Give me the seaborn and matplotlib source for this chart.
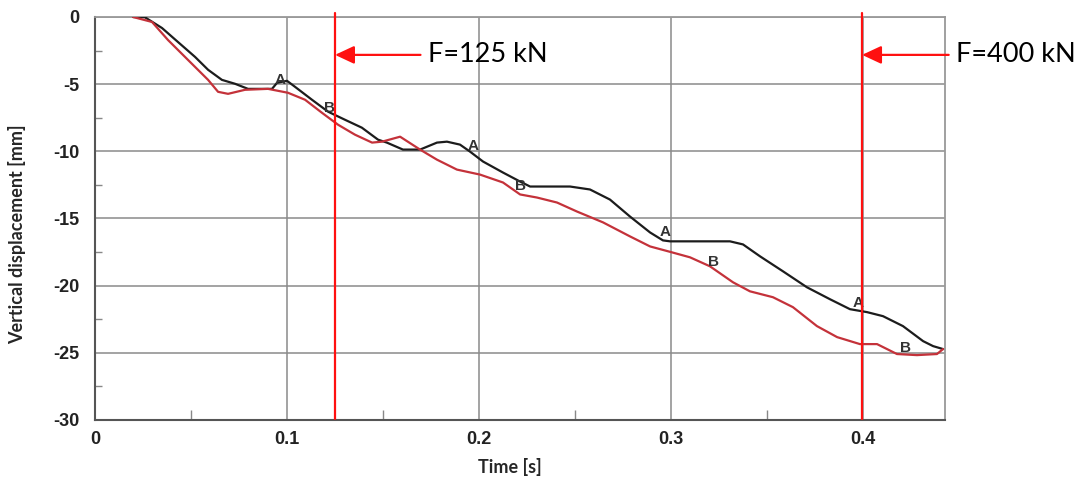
import matplotlib
matplotlib.use("Agg")
import matplotlib.pyplot as plt
import seaborn as sns, pandas as pd
from matplotlib.ticker import MultipleLocator

# curve A (black)
time_a = [0.0198, 0.026, 0.0349, 0.0432, 0.0521, 0.0589, 0.0661, 0.0729, 0.0797, 0.0922,
          0.0948, 0.1, 0.1042, 0.113, 0.1214, 0.1302, 0.139, 0.1474, 0.152, 0.1604,
          0.1693, 0.1781, 0.1833, 0.1901, 0.1953, 0.2021, 0.2125, 0.2214, 0.2266, 0.2474,
          0.2578, 0.2682, 0.2786, 0.2891, 0.2958, 0.2995, 0.3203, 0.3307, 0.3375, 0.3464,
          0.3583, 0.3708, 0.3828, 0.3932, 0.4021, 0.4104, 0.4208, 0.4313, 0.4365, 0.4417]
disp_a = [0, -0.02, -0.82, -1.86, -2.97, -3.93, -4.68, -4.97, -5.35, -5.35,
          -4.9, -4.75, -5.2, -6.16, -7.05, -7.65, -8.24, -9.13, -9.35, -9.87,
          -9.87, -9.35, -9.28, -9.5, -10.02, -10.76, -11.58, -12.25, -12.62, -12.62,
          -12.84, -13.59, -14.85, -16.04, -16.63, -16.7, -16.7, -16.7, -16.93, -17.82,
          -18.93, -20.12, -21.01, -21.75, -21.97, -22.27, -23.01, -24.13, -24.5, -24.72]

# curve B (red)
time_b = [0.0198, 0.0297, 0.038, 0.0484, 0.0589, 0.0641, 0.0693, 0.0781, 0.0901, 0.1005,
          0.1094, 0.1182, 0.1266, 0.1354, 0.1443, 0.1495, 0.1589, 0.1693, 0.1781, 0.1885,
          0.2005, 0.2125, 0.2214, 0.2302, 0.2406, 0.251, 0.2646, 0.2786, 0.2891, 0.3005,
          0.3099, 0.3203, 0.3323, 0.3411, 0.3531, 0.3635, 0.376, 0.3865, 0.3984, 0.4073,
          0.4177, 0.4281, 0.4385, 0.4417]
disp_b = [0, -0.37, -1.71, -3.19, -4.68, -5.57, -5.72, -5.42, -5.35, -5.64,
          -6.16, -7.13, -8.02, -8.76, -9.35, -9.28, -8.91, -9.87, -10.62, -11.36,
          -11.73, -12.32, -13.21, -13.44, -13.81, -14.48, -15.29, -16.33, -17.08, -17.52,
          -17.89, -18.56, -19.75, -20.42, -20.86, -21.6, -23.01, -23.83, -24.35, -24.35,
          -25.09, -25.17, -25.09, -24.72]

# curve labels along the lines
label_a_t = [0.0964, 0.1969, 0.2969, 0.3974]
label_a_d = [-4.68, -9.58, -16.04, -21.31]
label_b_t = [0.1219, 0.2214, 0.3219, 0.4219]
label_b_d = [-6.76, -12.55, -18.26, -24.65]

# load markers
force_t = [0.125, 0.3995]
force_text = ["F=125 kN", "F=400 kN"]
force_text_t = [0.1734, 0.4485]

df = pd.concat([
    pd.DataFrame({"t": time_a, "d": disp_a, "curve": "A"}),
    pd.DataFrame({"t": time_b, "d": disp_b, "curve": "B"}),
], ignore_index=True)

sns.set_style("white")
plt.rcParams["font.family"] = ["Liberation Sans", "DejaVu Sans"]
plt.rcParams["axes.unicode_minus"] = False

fig = plt.figure(figsize=(10.76, 4.79), dpi=100)
ax = fig.add_axes([95/1076, 1-420/479, 850/1076, 403/479])

sns.lineplot(data=df, x="t", y="d", hue="curve", palette={"A": "#1c1c1c", "B": "#c4323a"},
             estimator=None, sort=False, legend=False, linewidth=1.6, ax=ax, zorder=3)

for t, d in zip(label_a_t, label_a_d):
    ax.text(t, d, "A", fontsize=11, fontweight="bold", color="#333333", ha="center", va="center", zorder=4)
for t, d in zip(label_b_t, label_b_d):
    ax.text(t, d, "B", fontsize=11, fontweight="bold", color="#333333", ha="center", va="center", zorder=4)

ax.set_xlim(0, 0.4427)
ax.set_ylim(-30, 0)
ax.xaxis.set_minor_locator(MultipleLocator(0.05))
ax.yaxis.set_major_locator(MultipleLocator(5))
ax.yaxis.set_minor_locator(MultipleLocator(2.5))
ax.set_xticks([0, 0.1, 0.2, 0.3, 0.4])
ax.set_xticklabels(["0", "0.1", "0.2", "0.3", "0.4"])
ax.grid(True, which="major", color="#8a8a8a", linewidth=1.1)
ax.tick_params(axis="y", which="major", direction="out", length=8, width=1.1, color="#666666",
               labelsize=13, labelcolor="#222222", pad=3)
ax.tick_params(axis="y", which="minor", direction="in", length=5, width=1, color="#888888", left=True)
ax.tick_params(axis="x", which="major", direction="in", length=0, labelsize=13, labelcolor="#222222", pad=8)
ax.tick_params(axis="x", which="minor", direction="in", length=7, width=1, color="#888888", bottom=True)
for lab in ax.get_xticklabels() + ax.get_yticklabels():
    lab.set_fontweight("bold")
for side in ["left", "bottom"]:
    ax.spines[side].set_color("#555555")
    ax.spines[side].set_linewidth(1.5)
for side in ["top", "right"]:
    ax.spines[side].set_color("#999999")
    ax.spines[side].set_linewidth(1.3)

ax.set_xlabel("Time [s]", fontsize=13, fontweight="bold", family=["Lato", "DejaVu Sans"])
ax.set_ylabel("Vertical displacement [mm]", fontsize=13, fontweight="bold", family=["Lato", "DejaVu Sans"])
ax.xaxis.set_label_coords(0.488, -0.095)
ax.yaxis.set_label_coords(-0.081, 0.4615)

for t, txt, tt in zip(force_t, force_text, force_text_t):
    ax.plot([t, t], [0.3, -29.95], color="#ff1010", linewidth=1.6, clip_on=False, zorder=5)
    ax.annotate(txt, xy=(t, -2.82), xytext=(tt, -2.82), fontsize=19.5, family=["Lato", "DejaVu Sans"],
                ha="left", va="center", color="black", annotation_clip=False,
                arrowprops=dict(arrowstyle="-|>,head_length=0.6,head_width=0.28", color="#ff1010",
                                lw=1.6, shrinkA=3, shrinkB=0))

fig.savefig("out.png", dpi=100)
